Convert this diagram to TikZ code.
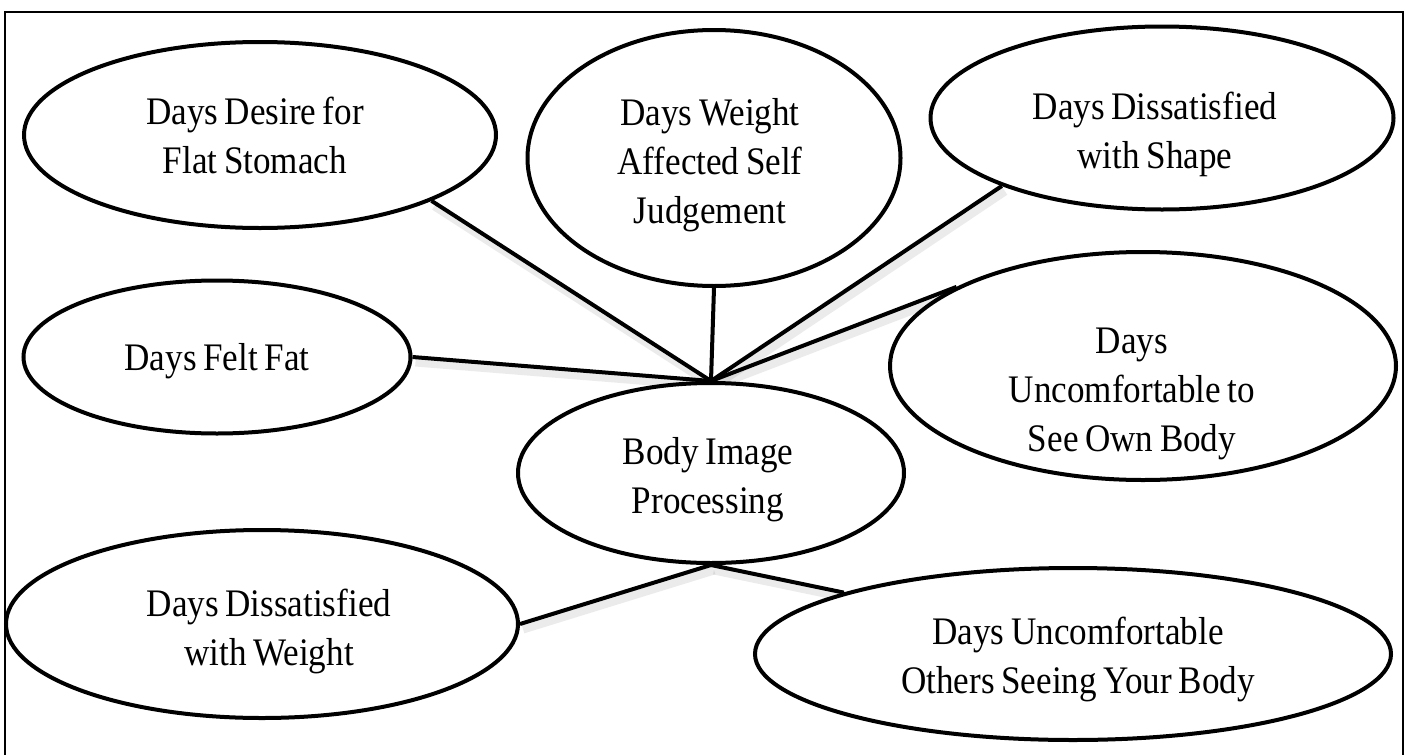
\documentclass[tikz,border=0pt]{standalone}
\usepackage{fontspec}
\setmainfont{Liberation Serif}[FakeStretch=0.9, WordSpace=0.75]
\usetikzlibrary{shapes.geometric}
\pgfdeclarelayer{background}
\pgfsetlayers{background,main}
\begin{document}
\begin{tikzpicture}[x=1pt,y=-1pt,
  ell/.style={draw, ellipse, line width=4pt, fill=white, inner sep=0pt},
  txt/.style={align=center, font=\fontsize{39}{49}\selectfont, inner sep=0pt},
  link/.style={line width=4pt},
  shade/.style={line width=9pt, black, opacity=0.08}]
\useasboundingbox (0,0) rectangle (1409,755);
% ellipses
\node[ell, minimum width=472, minimum height=186] (flat)   at (260,135) {};
\node[ell, minimum width=373, minimum height=256] (judge)  at (714,158) {};
\node[ell, minimum width=463, minimum height=183] (shape)  at (1162,118) {};
\node[ell, minimum width=387, minimum height=153] (fat)    at (217,357) {};
\node[ell, minimum width=506, minimum height=228] (own)    at (1143,366) {};
\node[ell, minimum width=386, minimum height=180] (body)   at (711,473) {};
\node[ell, minimum width=512, minimum height=188] (weight) at (262,624) {};
\node[ell, minimum width=636, minimum height=172] (others) at (1073,654) {};
% texts
\node[txt] (flatT)   at (255,139) {\strut Days Desire for\\\strut Flat Stomach};
\node[txt] (judgeT)  at (710,165) {\strut Days Weight\\\strut Affected Self\\\strut Judgement};
\node[txt] (shapeT)  at (1155,134) {\strut Days Dissatisfied\\\strut with Shape};
\node[txt] (fatT)    at (217,361) {\strut Days Felt Fat};
\node[txt] (ownT)    at (1132,393) {\strut Days\\\strut Uncomfortable to\\\strut See Own Body};
\node[txt] (bodyT)   at (708,479) {\strut Body Image\\\strut Processing};
\node[txt] (weightT) at (269,631) {\strut Days Dissatisfied\\\strut with Weight};
\node[txt] (othersT) at (1078,659) {\strut Days Uncomfortable\\\strut Others Seeing Your Body};
% connectors
\draw[link] (flat.-21)   -- (body.north);
\draw[link] (judge.south) -- (body.north);
\draw[link] (shape.-157) -- (body.north);
\draw[link] (own.157)    -- (body.north);
\draw[link] (fat.east)   -- (body.north);
\draw[link] (body.south) -- (weight.east);
\draw[link] (body.south) -- (others.165);
% background: page and line shadows
\begin{pgfonlayer}{background}
\fill[white] (0,0) rectangle (1409,755);
\begin{scope}[transform canvas={xshift=3pt,yshift=-5pt}]
\draw[shade] (flat.-21)   -- (body.north);
\draw[shade] (shape.-157) -- (body.north);
\draw[shade] (own.157)    -- (body.north);
\draw[shade] (fat.east)   -- (body.north);
\draw[shade] (body.south) -- (weight.east);
\draw[shade] (body.south) -- (others.165);
\end{scope}
\end{pgfonlayer}
\draw[line width=2pt] (5,775) -- (5,11.5) -- (1403,11.5) -- (1403,775);
\end{tikzpicture}
\end{document}
